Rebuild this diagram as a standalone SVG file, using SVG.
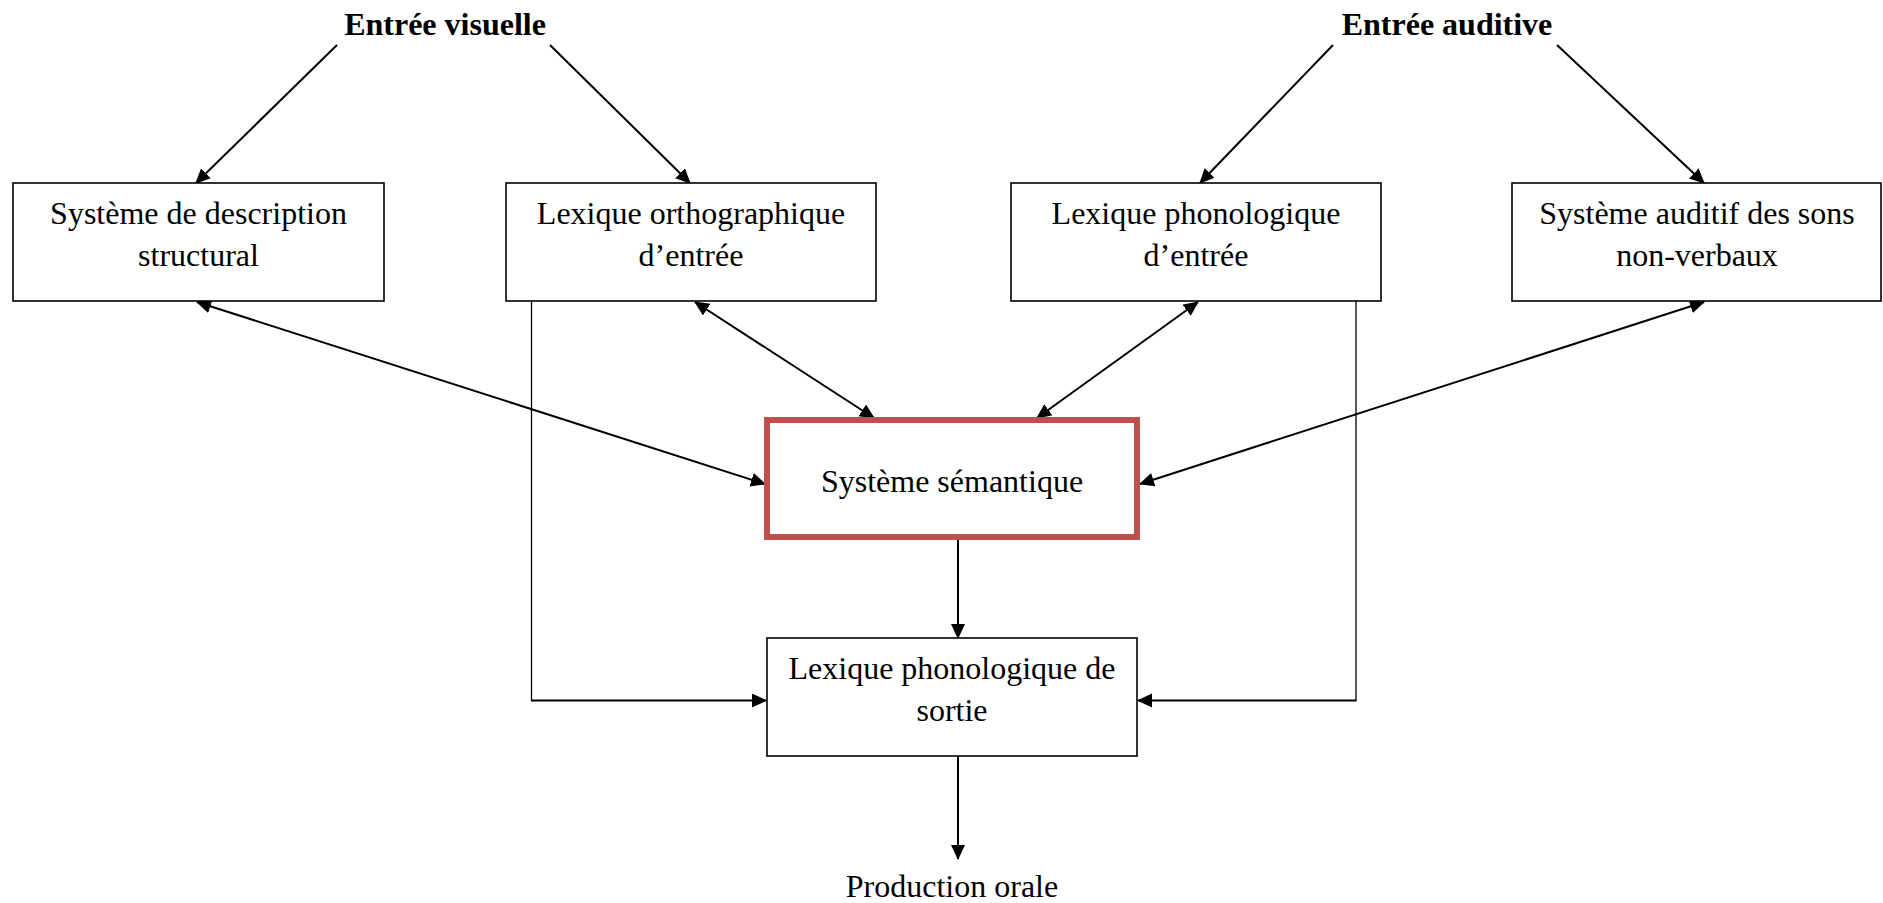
<svg xmlns="http://www.w3.org/2000/svg" width="1883" height="903" viewBox="0 0 1883 903">
<style>
text{font-family:"Liberation Serif","Times New Roman",serif;font-size:32px;fill:#000;text-anchor:middle}
.title{font-weight:bold}
.box{fill:#fff;stroke:#000;stroke-width:1.6}
.sem{fill:#fff;stroke:#C0504D;stroke-width:6}
.c{fill:none;stroke:#000;stroke-width:2}
.thin{fill:none;stroke:#000;stroke-width:1.3}
</style>
<defs>
<marker id="ah" markerUnits="userSpaceOnUse" markerWidth="15" markerHeight="15" viewBox="0 0 15 15" refX="14" refY="7" orient="auto-start-reverse">
<path d="M0,0 L15,7 L0,14 z" fill="#000"/>
</marker>
</defs>
<rect width="1883" height="903" fill="#fff"/>
<g id="connectors">
<line class="c" x1="337" y1="45" x2="196" y2="183" marker-end="url(#ah)"/>
<line class="c" x1="550" y1="45" x2="690" y2="183" marker-end="url(#ah)"/>
<line class="c" x1="1333" y1="45" x2="1200" y2="183" marker-end="url(#ah)"/>
<line class="c" x1="1557" y1="45" x2="1704" y2="183" marker-end="url(#ah)"/>
<line class="c" x1="197" y1="302" x2="765" y2="484" marker-start="url(#ah)" marker-end="url(#ah)"/>
<line class="c" x1="695" y1="302" x2="874" y2="418" marker-start="url(#ah)" marker-end="url(#ah)"/>
<line class="c" x1="1198" y1="302" x2="1037" y2="418" marker-start="url(#ah)" marker-end="url(#ah)"/>
<line class="c" x1="1704" y1="302" x2="1140" y2="484" marker-start="url(#ah)" marker-end="url(#ah)"/>
<line class="thin" x1="531.5" y1="301" x2="531.5" y2="700.5"/>
<line class="c" x1="531" y1="700.5" x2="766" y2="700.5" marker-end="url(#ah)"/>
<line class="thin" x1="1356" y1="301" x2="1356" y2="700.5"/>
<line class="c" x1="1356.5" y1="700.5" x2="1138" y2="700.5" marker-end="url(#ah)"/>
<line class="c" x1="958" y1="540" x2="958" y2="638" marker-end="url(#ah)"/>
<line class="c" x1="958" y1="756" x2="958" y2="859" marker-end="url(#ah)"/>
</g>
<g id="entree-visuelle"><text class="title" x="445" y="35">Entrée visuelle</text></g>
<g id="entree-auditive"><text class="title" x="1447" y="35">Entrée auditive</text></g>
<g id="sys-description">
<rect class="box" x="13" y="183" width="371" height="118"/>
<text x="198.5" y="224">Système de description</text>
<text x="198.5" y="266">structural</text>
</g>
<g id="lex-ortho">
<rect class="box" x="506" y="183" width="370" height="118"/>
<text x="691" y="224">Lexique orthographique</text>
<text x="691" y="266">d’entrée</text>
</g>
<g id="lex-phono-entree">
<rect class="box" x="1011" y="183" width="370" height="118"/>
<text x="1196" y="224">Lexique phonologique</text>
<text x="1196" y="266">d’entrée</text>
</g>
<g id="sys-auditif">
<rect class="box" x="1512" y="183" width="369" height="118"/>
<text x="1697" y="224">Système auditif des sons</text>
<text x="1697" y="266">non-verbaux</text>
</g>
<g id="sys-semantique">
<rect class="sem" x="767" y="420" width="370" height="117"/>
<text x="952" y="492">Système sémantique</text>
</g>
<g id="lex-phono-sortie">
<rect class="box" x="767" y="638" width="370" height="118"/>
<text x="952" y="679">Lexique phonologique de</text>
<text x="952" y="721">sortie</text>
</g>
<g id="production-orale"><text x="952" y="897">Production orale</text></g>
</svg>
